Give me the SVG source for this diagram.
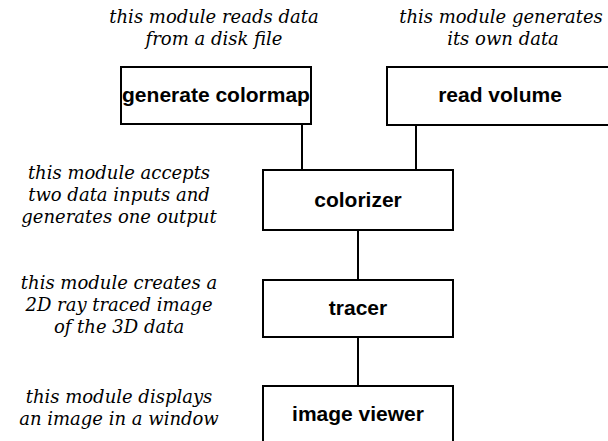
<svg xmlns="http://www.w3.org/2000/svg" width="608" height="441" viewBox="0 0 608 441">
<style>
.box{fill:#fff;stroke:#000;stroke-width:2}
.lbl{font-family:"Liberation Sans",Arial,sans-serif;font-weight:bold;font-size:21px;text-anchor:middle;fill:#000}
.note{font-family:"DejaVu Serif","Liberation Serif",serif;font-style:italic;font-size:18px;text-anchor:middle;fill:#000}
.conn{stroke:#000;stroke-width:2;fill:none}
</style>
<rect width="608" height="441" fill="#fff"/>
<g id="connectors">
<line class="conn" x1="302" y1="124" x2="302" y2="170"/>
<line class="conn" x1="416" y1="125" x2="416" y2="170"/>
<line class="conn" x1="358" y1="230" x2="358" y2="280"/>
<line class="conn" x1="358" y1="337" x2="358" y2="386"/>
</g>
<g id="generate-colormap">
<rect class="box" x="121" y="67" width="190" height="57"/>
<text class="lbl" x="216" y="102">generate colormap</text>
<text class="note" x="214" y="23">this module reads data</text>
<text class="note" x="214" y="45">from a disk file</text>
</g>
<g id="read-volume">
<rect class="box" x="387" y="67" width="240" height="58"/>
<text class="lbl" x="500" y="102">read volume</text>
<text class="note" x="501" y="23">this module generates</text>
<text class="note" x="503" y="45">its own data</text>
</g>
<g id="colorizer">
<rect class="box" x="263" y="170" width="190" height="60"/>
<text class="lbl" x="358" y="207">colorizer</text>
<text class="note" x="119" y="179">this module accepts</text>
<text class="note" x="119" y="201">two data inputs and</text>
<text class="note" x="119" y="223">generates one output</text>
</g>
<g id="tracer">
<rect class="box" x="263" y="280" width="190" height="57"/>
<text class="lbl" x="358" y="315">tracer</text>
<text class="note" x="119" y="289">this module creates a</text>
<text class="note" x="119" y="311">2D ray traced image</text>
<text class="note" x="119" y="333">of the 3D data</text>
</g>
<g id="image-viewer">
<rect class="box" x="263" y="386" width="190" height="80"/>
<text class="lbl" x="358" y="421">image viewer</text>
<text class="note" x="119" y="403">this module displays</text>
<text class="note" x="119" y="425">an image in a window</text>
</g>
</svg>
